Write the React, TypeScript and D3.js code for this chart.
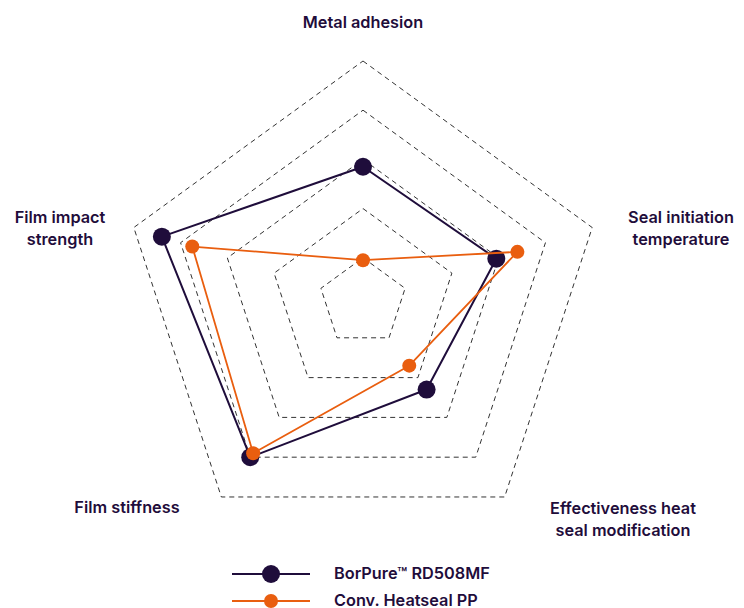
import React, { useEffect, useRef } from 'react';
import * as d3 from 'd3';

// chart data
const axes = [
  ['Metal adhesion'],
  ['Seal initiation', 'temperature'],
  ['Effectiveness heat', 'seal modification'],
  ['Film stiffness'],
  ['Film impact', 'strength'],
];
const borpure = [2.85, 2.95, 2.3, 4.0, 4.4];
const heatseal = [0.95, 3.4, 1.7, 3.9, 3.75];
const levels = [1, 2, 3, 4, 5];
const seriesNames = ['BorPure™ RD508MF', 'Conv. Heatseal PP'];

const W = 744;
const H = 608;
const DARK = '#1f0d3b';
const ORANGE = '#e95e0f';
const FONT = 'Inter, "Noto Sans", sans-serif';

// where the axis labels sit (centre x, first baseline)
const labelAt = [
  [363, 28],
  [681, 223],
  [623, 514],
  [127, 513],
  [60, 223],
];

const App = () => {
  const ref = useRef<SVGSVGElement>(null);

  useEffect(() => {
    const svg = d3.select(ref.current);
    svg.selectAll('*').remove();

    const cx = 363;
    const cy = 302;
    const r = d3.scaleLinear().domain([0.1, 5]).range([0, 241]);
    const angle = d3.scaleLinear().domain([0, axes.length]).range([0, 2 * Math.PI]);

    const pt = (v: number, i: number): [number, number] => [
      cx + r(v) * Math.sin(angle(i)),
      cy - r(v) * Math.cos(angle(i)),
    ];
    const closed = d3.line().curve(d3.curveLinearClosed);

    // dashed pentagon grid
    svg.append('g')
      .selectAll('path')
      .data(levels)
      .join('path')
      .attr('d', lv => closed(axes.map((_, i) => pt(lv, i))))
      .attr('fill', 'none')
      .attr('stroke', '#333')
      .attr('stroke-width', 1)
      .attr('stroke-dasharray', '5,4');

    const drawSeries = (vals: number[], color: string, lw: number, rad: number) => {
      const g = svg.append('g');
      g.append('path')
        .attr('d', closed(vals.map((v, i) => pt(v, i))))
        .attr('fill', 'none')
        .attr('stroke', color)
        .attr('stroke-width', lw)
        .attr('stroke-linejoin', 'round');
      g.selectAll('circle')
        .data(vals)
        .join('circle')
        .attr('cx', (v, i) => pt(v, i)[0])
        .attr('cy', (v, i) => pt(v, i)[1])
        .attr('r', rad)
        .attr('fill', color);
    };
    drawSeries(borpure, DARK, 2, 9);
    drawSeries(heatseal, ORANGE, 1.8, 7);

    // axis labels
    const lab = svg.append('g')
      .attr('font-family', FONT)
      .attr('font-size', 16.3)
      .attr('font-weight', 600)
      .attr('fill', DARK)
      .attr('text-anchor', 'middle');
    axes.forEach((lines, i) => {
      const t = lab.append('text').attr('x', labelAt[i][0]).attr('y', labelAt[i][1]);
      lines.forEach((s, k) => {
        t.append('tspan')
          .attr('x', labelAt[i][0])
          .attr('dy', k === 0 ? 0 : 21.5)
          .text(s);
      });
    });

    // legend
    const legend = svg.append('g').attr('transform', 'translate(232,574)');
    const styles = [
      { color: DARK, lw: 2, rad: 9 },
      { color: ORANGE, lw: 1.8, rad: 7 },
    ];
    seriesNames.forEach((name, i) => {
      const row = legend.append('g').attr('transform', `translate(0,${i * 27})`);
      row.append('line')
        .attr('x1', 0).attr('x2', 78)
        .attr('stroke', styles[i].color)
        .attr('stroke-width', styles[i].lw);
      row.append('circle')
        .attr('cx', 39)
        .attr('r', styles[i].rad)
        .attr('fill', styles[i].color);
      row.append('text')
        .attr('x', 102)
        .attr('y', 5)
        .attr('font-family', FONT)
        .attr('font-size', 16.3)
        .attr('font-weight', 600)
        .attr('fill', DARK)
        .text(name);
    });
  }, []);

  return (
    <div style={{ position: 'absolute', left: 0, top: 0 }}>
      <svg ref={ref} width={W} height={H} style={{ display: 'block', background: '#fff' }} />
    </div>
  );
};

export default App;
